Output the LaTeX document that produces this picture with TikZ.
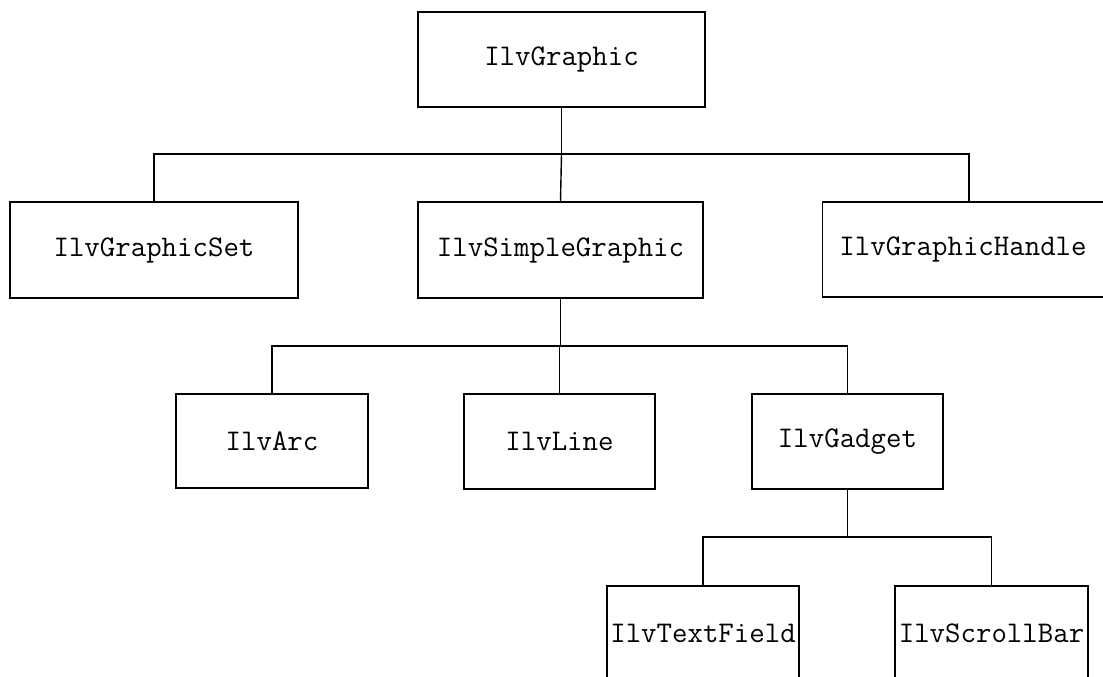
\documentclass[tikz,border=0pt]{standalone}
\begin{document}
\begin{tikzpicture}[x=1pt,y=-1pt,
  cls/.style={draw=black, line width=1.4pt, fill=white, inner sep=0pt,
    font=\ttfamily\fontsize{30}{36}\selectfont, text=black},
  conn/.style={draw=black, line width=1.4pt}]
\useasboundingbox (0,0) rectangle (1103,677);
\fill[white] (0,0) rectangle (1103,677);
\clip (0,0) rectangle (1103,677);
% level 1
\node[cls, minimum width=287pt, minimum height=95pt] (g) at (561.5,59.5) {IlvGraphic};
% level 2
\node[cls, minimum width=288pt, minimum height=96pt] (set) at (154,250) {IlvGraphicSet};
\node[cls, minimum width=285pt, minimum height=96pt] (simple) at (560.5,250) {IlvSimpleGraphic};
\node[cls, minimum width=281pt, minimum height=95pt] (handle) at (963,249.5) {IlvGraphicHandle};
% level 3
\node[cls, minimum width=192pt, minimum height=94pt] (arc) at (272,441) {IlvArc};
\node[cls, minimum width=191pt, minimum height=95pt] (line) at (559.5,441.5) {IlvLine};
\node[cls, minimum width=191pt, minimum height=95pt] (gadget) at (847.5,441.5) {IlvGadget};
% level 4
\node[cls, minimum width=192pt, minimum height=95pt] (tf) at (703,633.5) {IlvTextField};
\node[cls, minimum width=193pt, minimum height=95pt] (sb) at (991.5,633.5) {IlvScrollBar};
% buses
\coordinate (b1) at (561.5,154);
\coordinate (b2) at (560.5,346);
\coordinate (b3) at (847.5,537);
% connectors
\draw[conn] (g.south) -- (b1);
\draw[conn] (set.north) |- (b1);
\draw[conn] (b1) -| ([xshift=6pt]handle.north);
\draw[conn] (simple.north) -- (b1);
\draw[conn] (simple.south) -- (b2);
\draw[conn] (arc.north) |- (b2);
\draw[conn] (b2) -| (gadget.north);
\draw[conn] (line.north) -- (line.north |- b2);
\draw[conn] (gadget.south) -- (b3);
\draw[conn] (tf.north) |- (b3);
\draw[conn] (b3) -| (sb.north);
\end{tikzpicture}
\end{document}
